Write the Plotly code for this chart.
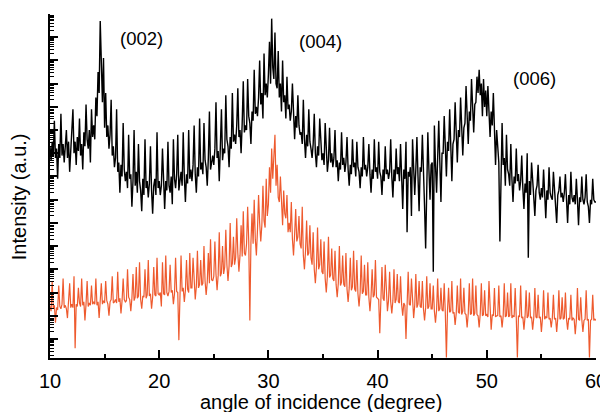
import plotly.graph_objects as go

# angle grid, 0.1 degree step from 10 to 60
angle = [round(10 + 0.1 * i, 1) for i in range(501)]

# log10 intensity, upper trace (black), one row per degree
black_log = [
    8.3, 7.7, 8.5, 7.9, 9.4, 7.8, 8.2, 6.9, 8.4, 7.8,
    9.7, 7.9, 8.4, 7.6, 8.3, 9.0, 7.8, 8.5, 7.2, 8.2,
    8.6, 9.9, 8.0, 8.5, 7.5, 8.7, 8.1, 9.5, 7.9, 8.4,
    7.3, 8.9, 8.3, 10.1, 8.6, 8.2, 9.0, 7.6, 9.9, 8.7,
    9.2, 8.6, 10.4, 9.6, 11.5, 10.6, 13.7, 11.3, 10.2, 12.1,
    9.1, 10.6, 8.7, 9.2, 8.2, 8.8, 10.3, 7.9, 8.3, 7.4,
    7.8, 9.9, 7.2, 7.6, 6.3, 7.5, 7.0, 9.3, 7.3, 6.8,
    7.2, 6.5, 8.8, 6.9, 7.1, 5.7, 6.8, 9.0, 6.6, 7.2,
    6.3, 8.4, 6.8, 6.4, 5.5, 6.9, 6.2, 8.6, 6.5, 6.8,
    6.1, 6.7, 8.3, 6.4, 5.4, 6.6, 6.9, 6.2, 8.9, 6.5,
    6.8, 6.2, 6.6, 8.2, 6.3, 5.6, 6.8, 6.4, 8.5, 6.6,
    6.3, 7.0, 5.8, 8.6, 6.9, 6.5, 7.1, 8.8, 6.4, 6.8,
    7.2, 6.6, 8.9, 7.0, 5.9, 7.1, 6.7, 9.0, 6.9, 7.3,
    6.8, 7.5, 9.2, 7.1, 6.3, 7.4, 7.0, 9.5, 7.3, 7.6,
    7.1, 9.3, 7.7, 7.4, 6.6, 7.8, 9.8, 7.3, 7.6, 7.9,
    7.5, 8.2, 10.2, 7.8, 8.1, 6.8, 8.3, 9.9, 7.7, 8.2,
    8.0, 10.5, 8.6, 8.3, 7.4, 8.7, 8.2, 10.6, 8.5, 8.8,
    8.4, 9.2, 10.8, 8.7, 9.0, 8.0, 9.3, 11.1, 8.9, 9.2,
    9.0, 11.2, 9.6, 9.3, 8.4, 9.8, 9.4, 11.6, 9.7, 10.0,
    9.6, 10.4, 12.0, 10.1, 10.6, 9.5, 12.3, 10.5, 11.0, 10.4,
    11.4, 12.8, 11.0, 13.8, 11.7, 11.2, 13.2, 11.0, 10.8, 12.4,
    10.4, 11.0, 9.8, 12.0, 10.2, 10.5, 9.5, 11.3, 9.9, 10.1,
    9.4, 9.8, 11.0, 9.3, 8.6, 9.6, 9.1, 10.5, 9.2, 8.8,
    8.9, 8.4, 10.3, 8.6, 7.8, 8.8, 8.3, 9.9, 8.5, 8.2,
    7.8, 8.4, 9.7, 8.0, 7.4, 8.3, 7.9, 9.5, 8.2, 7.7,
    8.0, 7.5, 9.3, 7.9, 7.2, 7.7, 9.1, 7.6, 8.0, 7.4,
    7.8, 9.0, 7.4, 7.7, 6.8, 7.6, 7.3, 8.9, 7.5, 7.8,
    7.2, 7.6, 8.7, 7.3, 6.6, 7.5, 7.1, 8.6, 7.4, 7.6,
    7.0, 8.5, 7.4, 7.2, 6.5, 7.4, 7.0, 8.7, 7.3, 7.5,
    7.0, 7.4, 8.4, 7.1, 6.3, 7.3, 6.9, 8.6, 7.2, 7.4,
    6.9, 8.5, 7.2, 7.0, 6.2, 7.3, 6.8, 8.3, 7.1, 7.3,
    6.9, 7.2, 8.6, 7.0, 6.1, 7.3, 6.8, 8.2, 7.1, 7.4,
    6.8, 8.4, 7.2, 5.6, 7.3, 6.9, 8.5, 4.6, 7.2, 7.0,
    7.4, 5.3, 8.6, 7.1, 6.2, 7.3, 8.7, 7.0, 5.5, 7.4,
    7.2, 8.8, 7.5, 5.7, 3.9, 7.6, 8.9, 7.3, 6.0, 7.5,
    7.6, 2.9, 9.2, 7.5, 6.3, 7.8, 9.4, 7.6, 5.9, 8.0,
    8.0, 9.6, 8.3, 7.0, 8.5, 8.1, 9.9, 8.2, 6.8, 8.4,
    8.6, 10.2, 8.9, 7.6, 9.0, 8.7, 10.4, 8.8, 7.9, 9.1,
    9.3, 10.9, 9.6, 8.4, 9.8, 9.4, 11.2, 9.7, 8.9, 10.1,
    10.2, 11.3, 10.6, 11.6, 10.5, 11.0, 9.6, 11.2, 10.0, 10.7,
    9.6, 10.9, 9.4, 8.7, 9.8, 9.2, 10.6, 8.6, 7.5, 9.0,
    8.2, 7.6, 4.2, 8.0, 9.3, 7.5, 7.8, 6.6, 8.8, 7.3,
    7.1, 6.6, 8.4, 6.9, 5.9, 7.0, 6.7, 8.2, 6.8, 7.1,
    6.4, 6.8, 7.9, 6.5, 5.6, 6.7, 6.3, 8.0, 3.5, 6.8,
    6.2, 7.6, 6.5, 6.1, 5.3, 6.4, 6.6, 7.5, 6.3, 6.0,
    6.5, 6.1, 7.3, 6.2, 5.2, 6.4, 6.0, 7.4, 6.3, 6.1,
    6.0, 7.2, 6.3, 5.9, 5.0, 6.2, 6.4, 7.0, 6.1, 6.3,
    5.9, 6.3, 7.1, 6.0, 5.0, 6.2, 5.8, 7.2, 6.1, 5.9,
    6.2, 5.8, 6.9, 6.0, 4.9, 6.1, 5.9, 7.0, 6.0, 5.8,
    6.1, 7.1, 5.9, 5.7, 5.0, 6.0, 5.8, 6.9, 6.0, 5.9,
    5.9,
]

# log10 intensity, lower trace (orange)
orange_log = [
    1.4, 1.2, 2.5, 1.3, 1.45, 0.7, 1.35, 1.25, 2.3, 1.4,
    1.3, 1.5, 2.6, 1.35, 1.45, 1.3, 0.9, 1.5, 2.4, 1.35,
    1.5, 1.35, 2.7, -0.4, 1.5, 1.4, 2.2, 1.55, 1.4, 2.6,
    1.45, 1.6, 0.8, 1.5, 2.5, 1.4, 1.55, 1.45, 2.3, 1.5,
    1.6, 1.5, 2.6, 1.45, 1.6, 0.9, 1.55, 2.4, 1.5, 1.65,
    1.55, 2.5, 1.65, 1.5, 1.0, 1.6, 1.7, 2.7, 1.55, 1.6,
    1.7, 1.55, 2.9, 1.6, 1.75, 1.1, 1.65, 2.6, 1.7, 1.6,
    1.65, 3.0, 1.8, 1.7, 1.2, 1.75, 2.8, 1.65, 1.8, 3.1,
    1.75, 1.85, 3.3, 1.7, 1.3, 1.85, 1.8, 3.0, 1.75, 1.9,
    3.4, 1.85, 1.95, 1.3, 1.8, 3.1, 1.9, 1.85, 3.5, 1.95,
    1.9, 2.0, 1.4, 3.3, 1.95, 1.9, 3.6, 2.0, 1.85, 2.05,
    3.2, 2.0, 2.1, 1.5, 1.95, 3.5, 2.05, 2.0, -0.05, 2.1,
    3.6, 2.05, 2.2, 1.6, 2.1, 3.4, 2.15, 2.0, 3.7, 2.2,
    2.2, 3.5, 2.3, 1.7, 2.25, 3.8, 2.2, 2.35, 3.4, 2.3,
    2.4, 4.0, 2.5, 1.9, 2.45, 3.7, 2.4, 4.3, 2.55, 2.5,
    2.7, 4.2, 2.8, 2.1, 2.75, 4.6, 2.7, 2.85, 4.0, 2.8,
    3.1, 4.7, 3.2, 2.5, 3.15, 5.0, 3.1, 3.25, 4.4, 3.2,
    3.5, 5.2, 3.7, 2.9, 3.6, 4.9, 3.55, 5.5, 3.7, 3.6,
    4.1, 5.7, 4.2, 0.8, 4.15, 5.4, 4.1, 6.0, 4.3, 3.6,
    4.7, 6.2, 5.0, 4.2, 4.9, 6.6, 5.1, 4.8, 6.9, 5.3,
    5.8, 7.4, 6.3, 8.2, 6.9, 7.8, 8.8, 6.6, 7.5, 6.1,
    5.9, 7.0, 5.5, 4.9, 6.4, 5.4, 5.2, 6.2, 4.6, 5.0,
    4.6, 5.9, 4.3, 3.6, 4.5, 5.6, 4.2, 4.4, 5.3, 4.1,
    3.9, 5.7, 3.6, 3.0, 3.8, 5.1, 3.6, 3.7, 4.9, 3.5,
    3.2, 4.6, 3.0, 2.4, 3.1, 4.8, 3.0, 3.2, 4.3, 2.9,
    2.8, 4.2, 2.6, 2.0, 2.7, 4.4, 2.65, 2.75, 3.9, 2.6,
    2.5, 3.8, 2.35, 1.8, 2.4, 4.0, 2.3, 2.45, 3.6, 2.35,
    2.25, 3.7, 2.15, 1.6, 2.2, 3.5, 2.1, 2.25, 3.8, 2.15,
    2.05, 3.4, 1.95, 1.4, 2.0, 3.6, 1.95, 2.05, 3.2, 1.9,
    1.9, 3.3, 1.8, 1.2, 1.85, 3.0, 1.8, 1.9, 3.4, 1.8,
    1.75, 1.7, 0.25, 1.7, 3.1, 1.75, 1.65, 3.2, 1.7, 1.2,
    1.65, 2.9, 1.6, 1.1, 1.65, 3.0, 1.55, 1.7, 2.8, 1.6,
    1.55, 2.7, 1.5, 1.0, 1.55, 1.45, 0.0, 1.5, 2.9, 1.5,
    1.45, 2.6, 1.4, 0.9, 1.45, 2.8, 1.35, 1.5, 2.5, 1.4,
    1.35, 2.5, 1.3, 0.8, 1.35, 2.7, 1.3, 1.4, 2.4, 1.3,
    1.3, 2.3, 1.2, 0.7, 1.25, 2.6, 1.2, 1.3, 2.2, 1.25,
    1.2, 2.4, 1.15, -0.8, 1.2, 2.2, 1.15, 1.2, 2.5, 1.1,
    1.15, 0.6, 1.1, 2.3, 1.15, 1.1, 2.6, 1.05, 1.2, 2.2,
    1.1, 1.05, 0.5, 1.1, 2.4, 1.05, 1.1, 2.6, 1.0, 1.1,
    2.3, 1.05, 1.0, 0.5, 1.1, 2.4, 1.0, 1.05, 2.1, 1.0,
    1.05, 0.95, 2.5, 1.0, 0.4, 1.05, 1.0, 2.2, 0.95, 1.0,
    1.0, 2.3, 0.95, 1.0, 0.5, 1.0, 2.4, 0.95, 1.0, 2.0,
    0.95, 1.0, 2.4, 0.9, 1.0, 0.95, 2.2, 0.9, -0.8, 1.0,
    0.95, 2.3, 0.9, 0.95, 0.4, 0.95, 2.1, 0.9, 1.0, 2.0,
    0.9, 0.95, 0.4, 0.9, 2.2, 0.95, 0.9, 1.9, 0.9, 0.95,
    0.3, 0.9, 2.1, 0.85, 0.95, 0.9, 2.0, 0.85, 0.9, 0.5,
    0.9, 1.9, 0.85, 0.9, 0.3, 0.9, 2.1, 0.85, 0.9, 1.8,
    0.85, 0.9, 2.0, 0.85, 0.4, 0.9, 0.85, 1.9, 0.8, 0.9,
    0.85, 0.2, 0.8, 2.2, 0.85, 0.8, 1.8, 0.85, 0.3, 0.8,
    0.85, 2.1, 0.8, 0.85, -0.8, 0.8, 0.85, 1.9, 0.8, 0.85,
    0.8,
]

peak_labels = ["(002)", "(004)", "(006)"]
peak_x = [18.4, 34.8, 54.4]
peak_y = [12.96, 12.83, 11.22]   # log10 units, as the y axis is log

fig = go.Figure()
fig.add_trace(go.Scatter(x=angle, y=[10 ** v for v in black_log], mode="lines",
                         line=dict(color="black", width=1.4), showlegend=False))
fig.add_trace(go.Scatter(x=angle, y=[10 ** v for v in orange_log], mode="lines",
                         line=dict(color="#EE5A2E", width=1.2), showlegend=False))

for t, ax, ay in zip(peak_labels, peak_x, peak_y):
    fig.add_annotation(x=ax, y=ay, text=t, showarrow=False,
                       font=dict(size=18.5, color="black"))

# log ticks on the intensity axis, no labels
major = [10 ** k for k in range(15)]
minor = [m * 10 ** k for k in range(-1, 15) for m in range(2, 10)]

# the page body adds an 8px margin, so the figure is 8px smaller than the window
fig.update_layout(
    width=600, height=404,
    margin=dict(l=42, r=12, t=6, b=54, autoexpand=False),
    plot_bgcolor="white", paper_bgcolor="white",
    font=dict(family="Liberation Sans, Arial, sans-serif", color="black"),
    xaxis=dict(range=[10, 60], tickvals=[10, 20, 30, 40, 50, 60],
               ticks="inside", ticklen=8, tickwidth=1.5, tickcolor="black",
               minor=dict(tickvals=[15, 25, 35, 45, 55], ticks="inside",
                          ticklen=4, tickwidth=1.5, tickcolor="black"),
               showline=True, linewidth=2, linecolor="black", automargin=False,
               showgrid=False, zeroline=False, tickfont=dict(size=20),
               ticklabelstandoff=4),
    yaxis=dict(type="log", range=[-0.82, 14.0], tickvals=major,
               showticklabels=False, automargin=False,
               ticks="inside", ticklen=8, tickwidth=1.5, tickcolor="black",
               minor=dict(tickvals=minor, ticks="inside", ticklen=4,
                          tickwidth=1, tickcolor="black"),
               showline=True, linewidth=2, linecolor="black",
               showgrid=False, zeroline=False),
)

fig.add_annotation(text="angle of incidence (degree)", xref="paper", yref="paper",
                   x=0.496, y=-0.127, xanchor="center", yanchor="middle",
                   showarrow=False, font=dict(size=20))
fig.add_annotation(text="Intensity (a.u.)", xref="paper", yref="paper",
                   x=-0.057, y=0.47, xanchor="center", yanchor="middle",
                   textangle=-90, showarrow=False, font=dict(size=20))

fig.write_html("out.html")
